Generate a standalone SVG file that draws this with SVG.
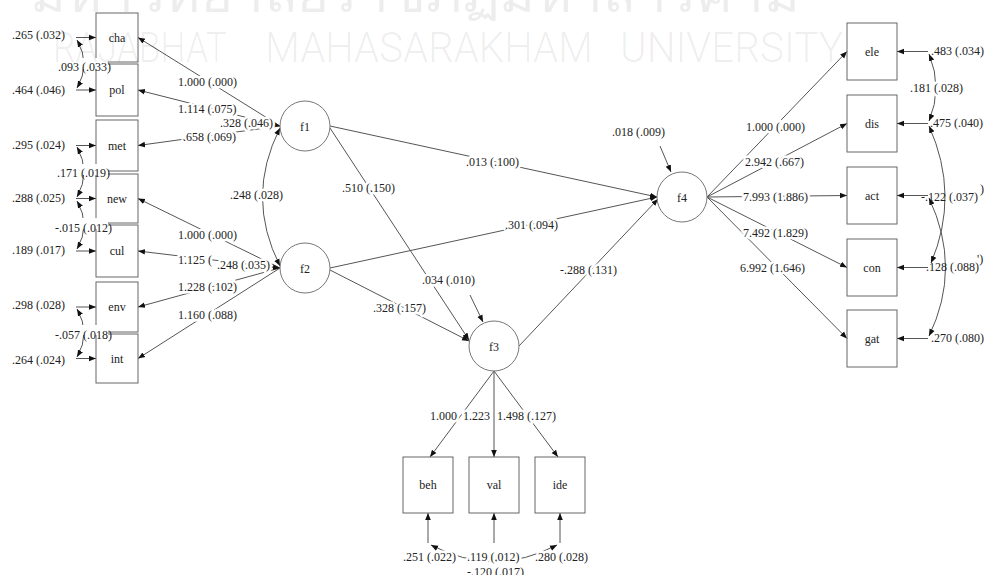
<svg xmlns="http://www.w3.org/2000/svg" width="985" height="575" viewBox="0 0 985 575">
<style>
.ln{stroke:#555;stroke-width:1;fill:none}
.box{fill:none;stroke:#666;stroke-width:1}
.lat{fill:#fff;stroke:#777;stroke-width:1}
.t{font-family:"Liberation Serif","Times New Roman",serif;font-size:12px;fill:#222}
.h{stroke:#fff;stroke-width:5;stroke-linejoin:round;paint-order:stroke}
.c{text-anchor:middle}
.wm{font-family:Roboto,"Liberation Sans",Arial,sans-serif;font-weight:300;fill:#000;fill-opacity:0.07}
</style>
<defs>
<marker id="ah" viewBox="0 0 10 10" refX="10" refY="5" markerWidth="7" markerHeight="7" markerUnits="userSpaceOnUse" orient="auto-start-reverse"><path d="M0,1 L10,5 L0,9 z" fill="#111"/></marker>
</defs>
<rect width="985" height="575" fill="#fff"/>
<g id="connectors">
<path class="ln" marker-end="url(#ah)" d="M76,37.5 H96"/>
<path class="ln" marker-end="url(#ah)" d="M76,90 H96"/>
<path class="ln" marker-end="url(#ah)" d="M76,145.5 H96"/>
<path class="ln" marker-end="url(#ah)" d="M76,198.5 H96"/>
<path class="ln" marker-end="url(#ah)" d="M76,251 H96"/>
<path class="ln" marker-end="url(#ah)" d="M76,307 H96"/>
<path class="ln" marker-end="url(#ah)" d="M76,358.5 H96"/>
<path class="ln" marker-start="url(#ah)" marker-end="url(#ah)" d="M77,40 Q91,64 77,88"/>
<path class="ln" marker-start="url(#ah)" marker-end="url(#ah)" d="M77,147 Q91,172 77,197"/>
<path class="ln" marker-start="url(#ah)" marker-end="url(#ah)" d="M77,201 Q91,225 77,249"/>
<path class="ln" marker-start="url(#ah)" marker-end="url(#ah)" d="M77,309 Q91,333 77,357"/>
<path class="ln" marker-end="url(#ah)" d="M280,126 L138,37.5"/>
<path class="ln" marker-end="url(#ah)" d="M280,126 L138,90"/>
<path class="ln" marker-end="url(#ah)" d="M280,126 L138,145.5"/>
<path class="ln" marker-end="url(#ah)" d="M280,268 L138,198.5"/>
<path class="ln" marker-end="url(#ah)" d="M280,268 L138,251"/>
<path class="ln" marker-end="url(#ah)" d="M280,268 L138,307"/>
<path class="ln" marker-end="url(#ah)" d="M280,268 L138,358.5"/>
<path class="ln" marker-end="url(#ah)" d="M271,124 L280,126"/>
<path class="ln" marker-end="url(#ah)" d="M271,267 L280,268"/>
<path class="ln" marker-start="url(#ah)" marker-end="url(#ah)" d="M280,128 Q245,197 280,266"/>
<path class="ln" marker-end="url(#ah)" d="M330,126 L657,197"/>
<path class="ln" marker-end="url(#ah)" d="M330,268 L657,197"/>
<path class="ln" marker-end="url(#ah)" d="M330,128 L469,340"/>
<path class="ln" marker-end="url(#ah)" d="M330,270 L469,341"/>
<path class="ln" marker-end="url(#ah)" d="M519,346 L658,199"/>
<path class="ln" marker-end="url(#ah)" d="M470,295 L483,322"/>
<path class="ln" marker-end="url(#ah)" d="M660,146 L671,172"/>
<path class="ln" marker-end="url(#ah)" d="M494,371 L430,457"/>
<path class="ln" marker-end="url(#ah)" d="M494,371 L494,457"/>
<path class="ln" marker-end="url(#ah)" d="M494,371 L558,457"/>
<path class="ln" marker-end="url(#ah)" d="M428,543 L428,513"/>
<path class="ln" marker-end="url(#ah)" d="M494,543 L494,513"/>
<path class="ln" marker-end="url(#ah)" d="M560,543 L560,513"/>
<path class="ln" marker-start="url(#ah)" marker-end="url(#ah)" d="M431,545 Q494,578 557,545"/>
<path class="ln" marker-end="url(#ah)" d="M707,197 L847,51.5"/>
<path class="ln" marker-end="url(#ah)" d="M707,197 L847,123.5"/>
<path class="ln" marker-end="url(#ah)" d="M707,197 L847,195.5"/>
<path class="ln" marker-end="url(#ah)" d="M707,197 L847,267.5"/>
<path class="ln" marker-end="url(#ah)" d="M707,197 L847,338.5"/>
<path class="ln" marker-end="url(#ah)" d="M928,51.5 L897,51.5"/>
<path class="ln" marker-end="url(#ah)" d="M928,123.5 L897,123.5"/>
<path class="ln" marker-end="url(#ah)" d="M928,195.5 L897,195.5"/>
<path class="ln" marker-end="url(#ah)" d="M928,267.5 L897,267.5"/>
<path class="ln" marker-end="url(#ah)" d="M928,338.5 L897,338.5"/>
<path class="ln" marker-start="url(#ah)" marker-end="url(#ah)" d="M929,54 Q943,88 929,121"/>
<path class="ln" marker-start="url(#ah)" marker-end="url(#ah)" d="M929,126 Q960,195 931,263"/>
<path class="ln" marker-start="url(#ah)" marker-end="url(#ah)" d="M929,198 Q962,268 929,336"/>
</g>
<g id="cha"><rect class="box" x="96" y="13" width="42" height="49"/><text class="t c" x="117" y="41.5">cha</text></g>
<g id="pol"><rect class="box" x="96" y="64" width="42" height="52"/><text class="t c" x="117" y="94">pol</text></g>
<g id="met"><rect class="box" x="96" y="120" width="42" height="51"/><text class="t c" x="117" y="149.5">met</text></g>
<g id="new"><rect class="box" x="96" y="174" width="42" height="49"/><text class="t c" x="117" y="202.5">new</text></g>
<g id="cul"><rect class="box" x="96" y="225" width="42" height="52"/><text class="t c" x="117" y="255">cul</text></g>
<g id="env"><rect class="box" x="96" y="282" width="42" height="50"/><text class="t c" x="117" y="311">env</text></g>
<g id="int"><rect class="box" x="96" y="334" width="42" height="49"/><text class="t c" x="117" y="362.5">int</text></g>
<g id="f1"><circle class="lat" cx="305" cy="126" r="25"/><text class="t c" x="305" y="130.5">f1</text></g>
<g id="f2"><circle class="lat" cx="305" cy="268" r="25"/><text class="t c" x="305" y="272.5">f2</text></g>
<g id="f3"><circle class="lat" cx="494" cy="346" r="25"/><text class="t c" x="494" y="350.5">f3</text></g>
<g id="f4"><circle class="lat" cx="682" cy="197" r="25"/><text class="t c" x="682" y="201.5">f4</text></g>
<g id="beh"><rect class="box" x="403" y="457" width="50" height="56"/><text class="t c" x="428" y="489">beh</text></g>
<g id="val"><rect class="box" x="469" y="457" width="50" height="56"/><text class="t c" x="494" y="489">val</text></g>
<g id="ide"><rect class="box" x="535" y="457" width="50" height="56"/><text class="t c" x="560" y="489">ide</text></g>
<g id="ele"><rect class="box" x="847" y="23" width="50" height="57"/><text class="t c" x="872" y="55.5">ele</text></g>
<g id="dis"><rect class="box" x="847" y="95" width="50" height="57"/><text class="t c" x="872" y="127.5">dis</text></g>
<g id="act"><rect class="box" x="847" y="167" width="50" height="57"/><text class="t c" x="872" y="199.5">act</text></g>
<g id="con"><rect class="box" x="847" y="239" width="50" height="57"/><text class="t c" x="872" y="271.5">con</text></g>
<g id="gat"><rect class="box" x="847" y="310" width="50" height="57"/><text class="t c" x="872" y="342.5">gat</text></g>
<g id="labels">
<text class="t" x="12" y="39">.265 (.032)</text>
<text class="t" x="12" y="94">.464 (.046)</text>
<text class="t" x="12" y="149">.295 (.024)</text>
<text class="t" x="12" y="202">.288 (.025)</text>
<text class="t" x="12" y="254">.189 (.017)</text>
<text class="t" x="12" y="309">.298 (.028)</text>
<text class="t" x="12" y="364">.264 (.024)</text>
<rect x="55" y="58" width="53" height="11" fill="#fff"/>
<text class="t" x="58" y="71">.093 (.033)</text>
<rect x="55" y="164" width="53" height="11" fill="#fff"/>
<text class="t" x="57" y="177">.171 (.019)</text>
<rect x="53" y="218" width="55" height="11" fill="#fff"/>
<text class="t" x="55" y="232">-.015 (.012)</text>
<rect x="53" y="325" width="55" height="10" fill="#fff"/>
<text class="t" x="55" y="339">-.057 (.018)</text>
<text class="t h" x="178" y="86">1.000 (.000)</text>
<text class="t h" x="178" y="113">1.114 (.075)</text>
<text class="t h" x="183" y="141">.658 (.069)</text>
<text class="t h" x="220" y="127">.328 (.046)</text>
<text class="t h" x="230" y="199">.248 (.028)</text>
<text class="t h" x="178" y="239">1.000 (.000)</text>
<text class="t h" x="178" y="264">1.125 (</text>
<text class="t h" x="217" y="269">.248 (.035)</text>
<text class="t h" x="178" y="291">1.228 (.102)</text>
<text class="t h" x="178" y="319">1.160 (.088)</text>
<text class="t h" x="466" y="166">.013 (.100)</text>
<text class="t h" x="505" y="229">.301 (.094)</text>
<text class="t h" x="342" y="192">.510 (.150)</text>
<text class="t h" x="373" y="312">.328 (.157)</text>
<text class="t h" x="422" y="284">.034 (.010)</text>
<text class="t h" x="560" y="274">-.288 (.131)</text>
<text class="t h" x="612" y="136">.018 (.009)</text>
<text class="t h" x="430" y="420">1.000</text>
<text class="t h" x="463" y="420">1.223</text>
<text class="t h" x="497" y="420">1.498 (.127)</text>
<text class="t h" x="403" y="561">.251 (.022)</text>
<text class="t h" x="467" y="561">.119 (.012)</text>
<text class="t h" x="535" y="561">.280 (.028)</text>
<text class="t h" x="467" y="576">-.120 (.017)</text>
<text class="t h" x="746" y="131">1.000 (.000)</text>
<text class="t h" x="745" y="166">2.942 (.667)</text>
<text class="t h" x="743" y="201">7.993 (1.886)</text>
<text class="t h" x="743" y="237">7.492 (1.829)</text>
<text class="t h" x="740" y="272">6.992 (1.646)</text>
<text class="t" x="931" y="55">.483 (.034)</text>
<text class="t h" x="910" y="92">.181 (.028)</text>
<text class="t" x="930" y="127">.475 (.040)</text>
<text class="t" x="921" y="201">-.122 (.037)</text>
<text class="t" x="926" y="271">.128 (.088)</text>
<text class="t" x="931" y="342">.270 (.080)</text>
<text class="t" x="980" y="193" font-size="9">)</text>
<text class="t" x="977" y="263" font-size="9">')</text>
</g>
<g id="watermark">
<text class="wm" x="30" y="12" font-size="48" textLength="770" lengthAdjust="spacingAndGlyphs">มหาวิทยาลัยราชภัฏมหาสารคาม</text>
<text class="wm" x="53" y="62" font-size="42" textLength="174" lengthAdjust="spacingAndGlyphs">RAJABHAT</text>
<text class="wm" x="265" y="62" font-size="42" textLength="328" lengthAdjust="spacingAndGlyphs">MAHASARAKHAM</text>
<text class="wm" x="620" y="62" font-size="42" textLength="223" lengthAdjust="spacingAndGlyphs">UNIVERSITY</text>
</g>
</svg>
